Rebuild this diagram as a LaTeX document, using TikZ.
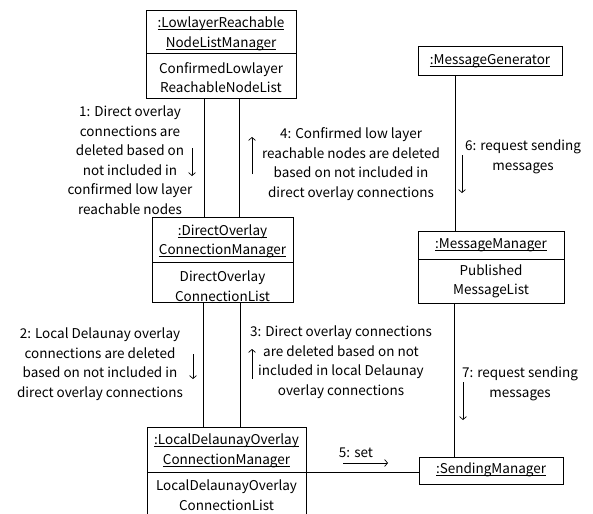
\documentclass[tikz,border=0pt]{standalone}
\usepackage{fontspec}
\setmainfont{Noto Sans CJK JP}
\newsavebox\myulbox
\newcommand\myul[1]{\sbox\myulbox{#1}\rlap{\rule[-2.2pt]{\wd\myulbox}{0.7pt}}\usebox\myulbox}
\usetikzlibrary{arrows.meta}
\begin{document}
\begin{tikzpicture}[x=1pt,y=-1pt,
  box/.style={draw, line width=0.8pt, anchor=north west, inner sep=0pt},
  txt/.style={align=center, font=\fontsize{13.5}{19.5}\selectfont, inner sep=0pt},
  lnk/.style={line width=0.8pt},
  msg/.style={line width=0.7pt, -{Straight Barb[length=3pt,width=7pt]}}]
\useasboundingbox (0,0) rectangle (593,513);
\clip (0,0) rectangle (593,513);
% boxes
\node[box, minimum width=150pt, minimum height=88pt] (A) at (146,10) {};
\node[box, minimum width=141pt, minimum height=85pt] (B) at (152,217) {};
\node[box, minimum width=159pt, minimum height=100pt] (C) at (147,427) {};
\node[box, minimum width=144pt, minimum height=29pt] (MG) at (418,46) {};
\node[box, minimum width=146pt, minimum height=72pt] (MM) at (418,231) {};
\node[box, minimum width=144pt, minimum height=27pt] (SM) at (419,457) {};
% dividers
\draw[lnk] (146,53) -- (296,53);
\draw[lnk] (152,262) -- (293,262);
\draw[lnk] (147,472) -- (306,472);
\draw[lnk] (418,259) -- (564,259);
% box texts
\node[txt] (At) at (221,34) {\myul{:LowlayerReachable}\\\myul{NodeListManager}};
\node[txt] (Aa) at (221,77.5) {ConfirmedLowlayer\\ReachableNodeList};
\node[txt] (Bt) at (222.5,241.5) {\myul{:DirectOverlay}\\\myul{ConnectionManager}};
\node[txt] (Ba) at (222.5,286) {DirectOverlay\\ConnectionList};
\node[txt] (Ct) at (226.5,451) {\myul{:LocalDelaunayOverlay}\\\myul{ConnectionManager}};
\node[txt] (Ca) at (226.5,495) {LocalDelaunayOverlay\\ConnectionList};
\node[txt] (MGt) at (490,61) {\myul{:MessageGenerator}};
\node[txt] (MMt) at (491,245) {\myul{:MessageManager}};
\node[txt] (MMa) at (491,281.5) {Published\\MessageList};
\node[txt] (SMt) at (491,470) {\myul{:SendingManager}};
% links
\draw[lnk] ([xshift=-17pt]A.south) -- ([xshift=-17pt]A.south |- B.north);
\draw[lnk] ([xshift=18pt]A.south) -- ([xshift=18pt]A.south |- B.north);
\draw[lnk] ([xshift=-19.5pt]B.south) -- ([xshift=-19.5pt]B.south |- C.north);
\draw[lnk] ([xshift=17.5pt]B.south) -- ([xshift=17.5pt]B.south |- C.north);
\draw[lnk] ([xshift=-35pt]MG.south) -- ([xshift=-35pt]MG.south |- MM.north);
\draw[lnk] ([xshift=-37pt]MM.south) -- ([xshift=-37pt]MM.south |- SM.north);
\draw[lnk] (C.east |- 0,472) -- (SM.west |- 0,472);
% message labels
\node[txt] (L1) at (130,160) {1: Direct overlay\\connections are\\deleted based on\\not included in\\confirmed low layer\\reachable nodes};
\node[txt] (L4) at (351,164) {4: Confirmed low layer\\reachable nodes are deleted\\based on not included in\\direct overlay connections};
\node[txt] (L6) at (523,157) {6: request sending\\messages};
\node[txt] (L2) at (100,364) {2: Local Delaunay overlay\\connections are deleted\\based on not included in\\direct overlay connections};
\node[txt] (L3) at (341,362) {3: Direct overlay connections\\are deleted based on not\\included in local Delaunay\\overlay connections};
\node[txt] (L7) at (520,384) {7: request sending\\messages};
\node[txt] (L5) at (356,453) {5: set};
% message arrows
\coordinate (a1s) at (192,148); \coordinate (a1e) at (192,176);
\coordinate (a4s) at (252,174); \coordinate (a4e) at (252,137);
\coordinate (a6s) at (462,155); \coordinate (a6e) at (462,193);
\coordinate (a2s) at (193,354); \coordinate (a2e) at (193,379);
\coordinate (a3s) at (252,379); \coordinate (a3e) at (252,349);
\coordinate (a7s) at (463,382); \coordinate (a7e) at (463,420);
\coordinate (a5s) at (343,463); \coordinate (a5e) at (388,463);
\draw[msg] (a1s) -- (a1e);
\draw[msg] (a4s) -- (a4e);
\draw[msg] (a6s) -- (a6e);
\draw[msg] (a2s) -- (a2e);
\draw[msg] (a3s) -- (a3e);
\draw[msg] (a7s) -- (a7e);
\draw[msg] (a5s) -- (a5e);
\end{tikzpicture}
\end{document}
